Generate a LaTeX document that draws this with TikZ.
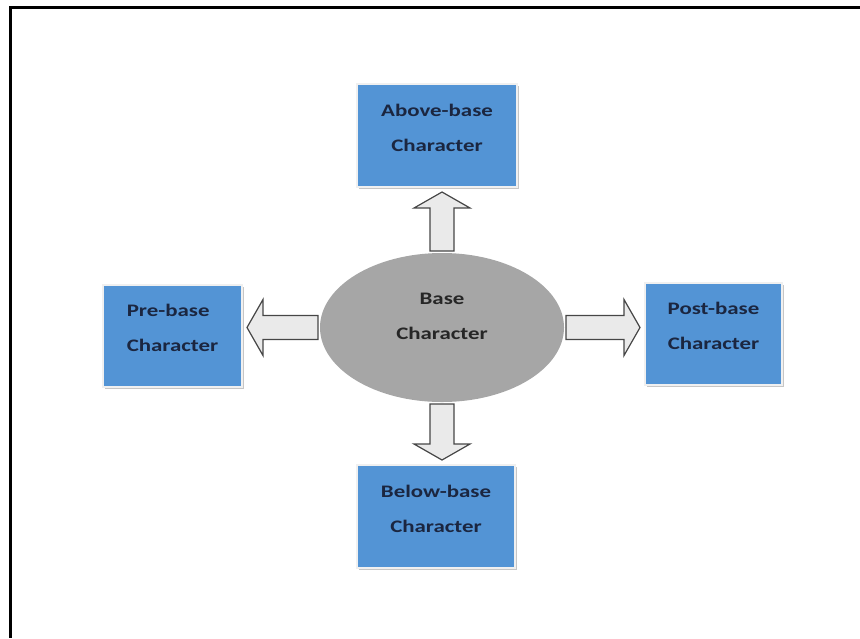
\documentclass[tikz,border=0pt]{standalone}
\usepackage{fontspec}
\setmainfont{Carlito}[FakeStretch=1.3]
\usetikzlibrary{shapes.geometric,calc,shadows}

\definecolor{boxblue}{RGB}{83,148,213}
\definecolor{boxtext}{RGB}{27,38,64}
\definecolor{basegray}{RGB}{166,166,166}
\definecolor{arrowfill}{RGB}{234,234,234}
\definecolor{arrowline}{RGB}{70,70,70}

\newcommand\lowpad[1]{\rule[-#1]{0pt}{#1}}
\newcommand\fatarrow[2]{%
  \coordinate (fah) at ($(#2)!8pt!(#1)$);
  \draw[fatarrow] ($(#1)!6pt!90:(#2)$) -- ($(fah)!6pt!90:(#2)$) -- ($(fah)!14pt!90:(#2)$) -- (#2)
    -- ($(fah)!14pt!-90:(#2)$) -- ($(fah)!6pt!-90:(#2)$) -- ($(#1)!6pt!-90:(#2)$) -- cycle;}

\begin{document}
\begin{tikzpicture}[x=0.5pt,y=-0.5pt]
\tikzstyle{charbox}=[rectangle, fill=boxblue, draw=white!88!gray, line width=1pt,
  drop shadow={shadow xshift=1pt, shadow yshift=-1pt, fill=gray!45, opacity=1},
  text=boxtext, align=center, inner sep=0pt, outer sep=2.5pt,
  font=\bfseries\fontsize{8.8}{17.5}\selectfont]
\tikzstyle{basecirc}=[ellipse, fill=basegray, minimum width=122pt, minimum height=74.5pt,
  inner sep=0pt, outer sep=1pt, text=black!85, align=center,
  font=\bfseries\fontsize{8.8}{17.5}\selectfont]
\tikzstyle{fatarrow}=[fill=arrowfill, draw=arrowline, line width=0.6pt, line join=miter]

\useasboundingbox (0,0) rectangle (860,638);
\draw[line width=1.5pt] (860,7) -- (10,7) -- (10,638);

\node[basecirc] (base) at (442,327.5) {Base\\Character\lowpad{11pt}};
\node[charbox, minimum width=80pt, minimum height=51.5pt] (above) at (437,135.5) {Above-base\\Character\lowpad{8pt}};
\node[charbox, minimum width=69.5pt, minimum height=51pt, align=left] (pre) at (172.5,336) {Pre-base\\Character\lowpad{8pt}};
\node[charbox, minimum width=68.5pt, minimum height=51pt] (post) at (713.5,334) {Post-base\\Character\lowpad{8pt}};
\node[charbox, minimum width=79pt, minimum height=51.5pt] (below) at (436,516.5) {Below-base\\Character\lowpad{8pt}};

\coordinate (abovetip) at (base.north |- above.south);
\coordinate (belowtip) at (base.south |- below.north);
\coordinate (pretip) at (base.west -| pre.east);
\coordinate (posttip) at (base.east -| post.west);

\fatarrow{base.north}{abovetip}
\fatarrow{base.south}{belowtip}
\fatarrow{base.west}{pretip}
\fatarrow{base.east}{posttip}

\end{tikzpicture}
\end{document}
